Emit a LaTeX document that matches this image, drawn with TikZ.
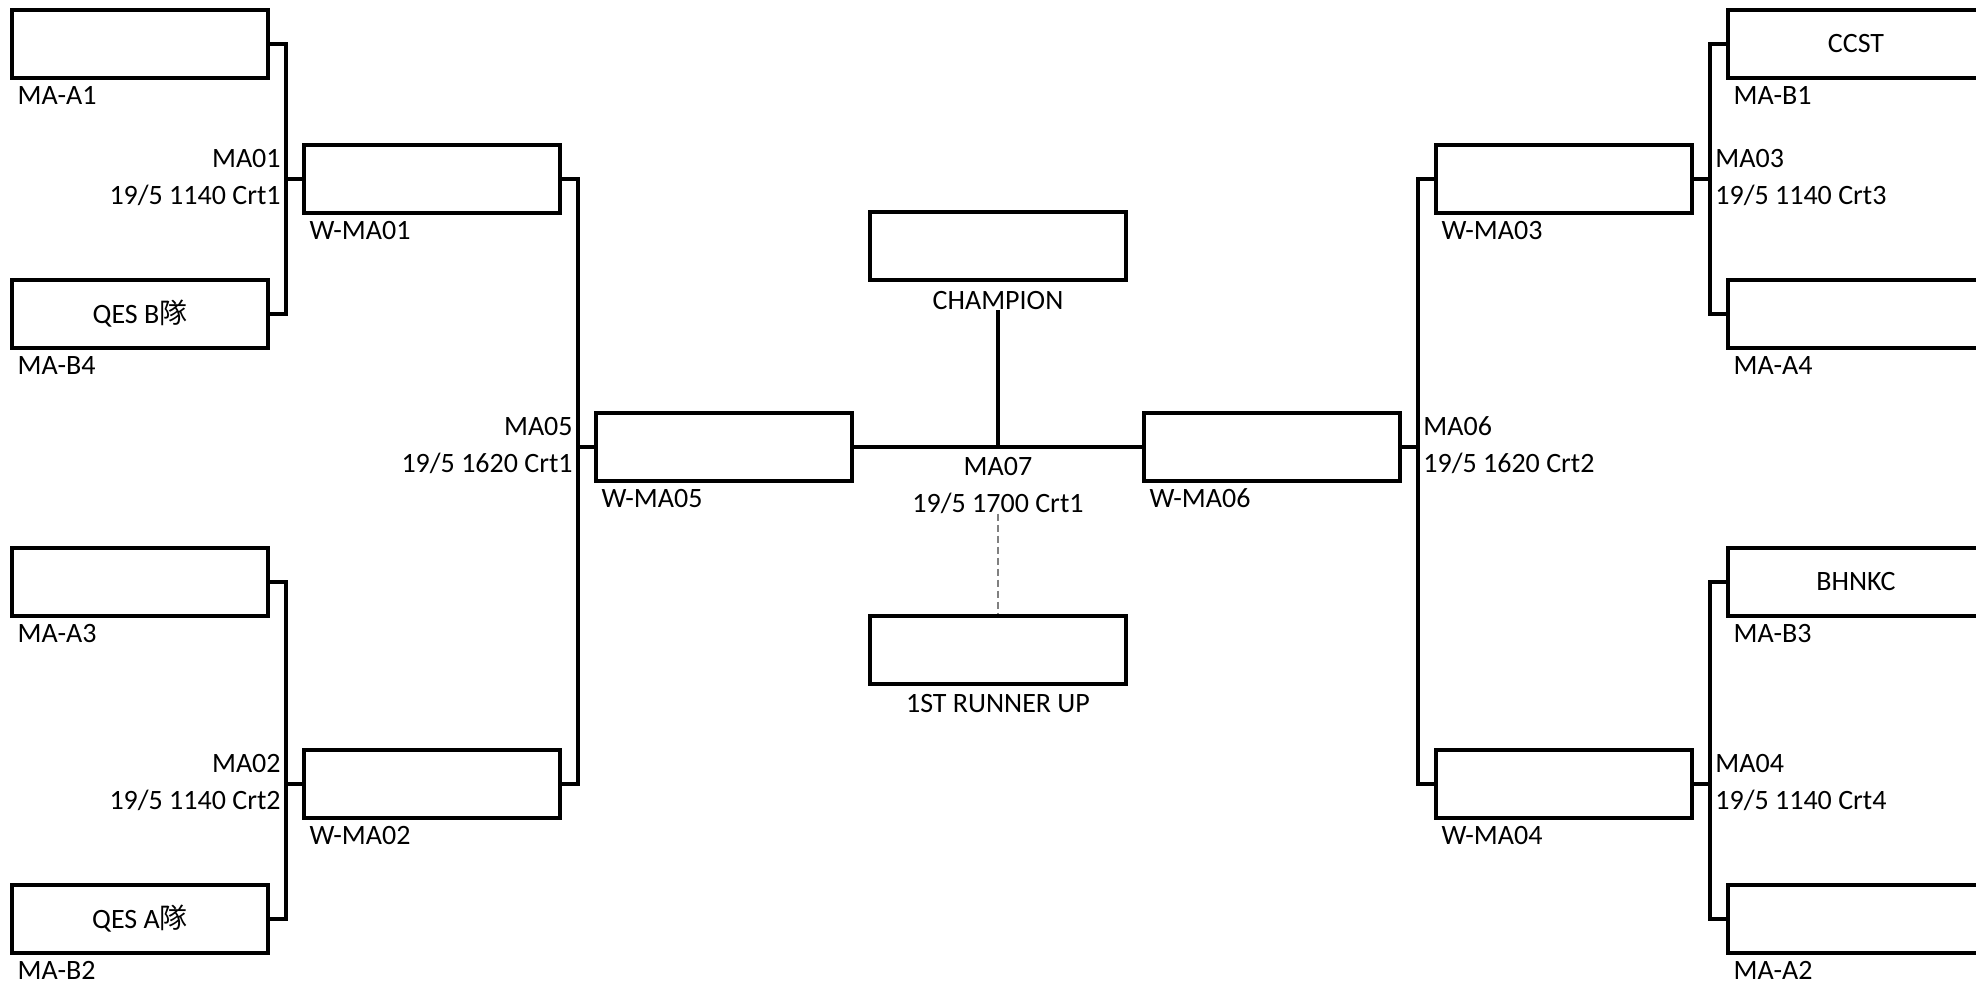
\documentclass[tikz,border=0pt]{standalone}
\usepackage{fontspec}
\setmainfont{Carlito}
\newfontfamily\cjkfont{Noto Sans CJK TC}
\usetikzlibrary{calc}

\tikzset{
	slot/.style={draw, line width=1.8pt, minimum width=128pt, minimum height=34pt, inner sep=0pt, font=\fontsize{14}{16}\selectfont},
	tag/.style={inner sep=0pt, font=\fontsize{14}{16}\selectfont},
	link/.style={line width=1.6pt},
}

\begin{document}
\begin{tikzpicture}[x=0.5pt, y=-0.5pt]
		\useasboundingbox (0,0) rectangle (1976,980);

		% Left side: first round
		\node[slot] (a1) at (140,44) {};
		\node[slot] (b4) at (140,314) {QES B{\cjkfont 隊}};
		\node[slot] (a3) at (140,582) {};
		\node[slot] (b2) at (140,919) {QES A{\cjkfont 隊}};
		\node[slot] (w01) at (432,179) {};
		\node[slot] (w02) at (432,784) {};
		\node[slot] (w05) at (724,447) {};

		% Right side: first round
		\node[slot] (b1) at (1856,44) {CCST};
		\node[slot] (a4) at (1856,314) {};
		\node[slot] (b3) at (1856,582) {BHNKC};
		\node[slot] (a2) at (1856,919) {};
		\node[slot] (w03) at (1564,179) {};
		\node[slot] (w04) at (1564,784) {};
		\node[slot] (w06) at (1272,447) {};

		% Final
		\node[slot] (champ) at (998,246) {};
		\node[slot] (runner) at (998,650) {};

		% Labels under the boxes
		\foreach \n/\t in {a1/MA-A1, b4/MA-B4, a3/MA-A3, b2/MA-B2, w01/W-MA01, w02/W-MA02, w05/W-MA05,
			b1/MA-B1, a4/MA-A4, b3/MA-B3, a2/MA-A2, w03/W-MA03, w04/W-MA04, w06/W-MA06}
			\node[tag, anchor=base west] (l\n) at ($(\n.south west)+(7,25)$) {\t};
		\node[tag, anchor=base] (lchamp) at ($(champ.south)+(0,28)$) {CHAMPION};
		\node[tag, anchor=base] (lrunner) at ($(runner.south)+(0,27)$) {1ST RUNNER UP};

		% Junctions
		\coordinate (j01) at (286,179);
		\coordinate (j02) at (286,784);
		\coordinate (j05) at (578,447);
		\coordinate (j03) at (1710,179);
		\coordinate (j04) at (1710,784);
		\coordinate (j06) at (1418,447);
		\coordinate (j07) at (998,447);

		% Brackets
		\draw[link] (a1.east) -| (j01) |- (b4.east) (j01) -- (w01.west);
		\draw[link] (a3.east) -| (j02) |- (b2.east) (j02) -- (w02.west);
		\draw[link] (w01.east) -| (j05) |- (w02.east) (j05) -- (w05.west);
		\draw[link] (b1.west) -| (j03) |- (a4.west) (j03) -- (w03.east);
		\draw[link] (b3.west) -| (j04) |- (a2.west) (j04) -- (w04.east);
		\draw[link] (w03.west) -| (j06) |- (w04.west) (j06) -- (w06.east);
		\draw[link] (w05.east) -- (w06.west);
		\draw[link] (lchamp.south) -- (j07);

		% Match names and times
		\foreach \j/\m/\d in {j01/MA01/19\slash5 1140 Crt1, j02/MA02/19\slash5 1140 Crt2, j05/MA05/19\slash5 1620 Crt1} {
			\node[tag, anchor=base east] (m\j) at ($(\j)+(-5,-12)$) {\m};
			\node[tag, anchor=base east] (d\j) at ($(\j)+(-5,25)$) {\d};
		}
		\foreach \j/\m/\d in {j03/MA03/19\slash5 1140 Crt3, j04/MA04/19\slash5 1140 Crt4, j06/MA06/19\slash5 1620 Crt2} {
			\node[tag, anchor=base west] (m\j) at ($(\j)+(5,-12)$) {\m};
			\node[tag, anchor=base west] (d\j) at ($(\j)+(5,25)$) {\d};
		}
		\node[tag, anchor=base] (mj07) at ($(j07)+(0,28)$) {MA07};
		\node[tag, anchor=base] (dj07) at ($(j07)+(0,65)$) {19/5 1700 Crt1};

		% Runner up link
		\draw[line width=1.4pt, gray, dash pattern=on 3.5pt off 2pt] (dj07.south) -- (runner.north);
	\end{tikzpicture}
\end{document}
